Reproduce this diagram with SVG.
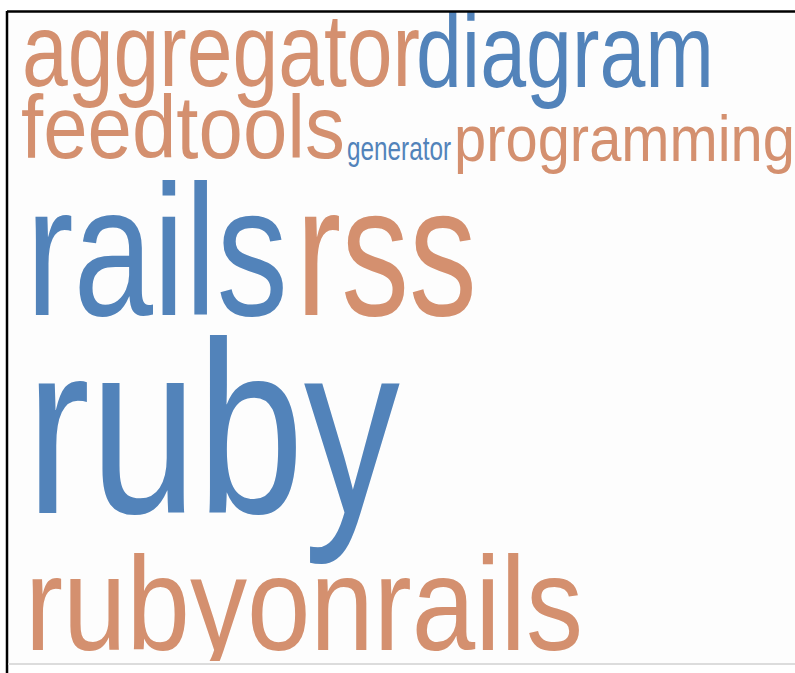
<svg xmlns="http://www.w3.org/2000/svg" width="795" height="673" viewBox="0 0 795 673">
  <defs>
    <style>
      .w { font-family: "Liberation Sans", Arial, sans-serif; }
      .o { fill: #D4906F; }
      .b { fill: #5283BA; }
    </style>
    <clipPath id="frame">
      <rect x="8" y="12" width="787" height="649"/>
    </clipPath>
  </defs>
  <rect x="0" y="0" width="795" height="673" fill="#ffffff"/>
  <rect x="8" y="12" width="787" height="652" fill="#fdfdfd"/>
  <g clip-path="url(#frame)">
    <g id="word-aggregator"><text class="w o" x="22" y="86" font-size="103" textLength="398" lengthAdjust="spacingAndGlyphs">aggregator</text></g>
    <g id="word-diagram"><text class="w b" x="416" y="87" font-size="103" textLength="298" lengthAdjust="spacingAndGlyphs">diagram</text></g>
    <g id="word-feedtools"><text class="w o" x="21" y="158" font-size="89" textLength="324" lengthAdjust="spacingAndGlyphs">feedtools</text></g>
    <g id="word-generator"><text class="w b" x="347" y="160" font-size="33" textLength="104" lengthAdjust="spacingAndGlyphs">generator</text></g>
    <g id="word-programming"><text class="w o" x="454" y="161" font-size="64" textLength="341" lengthAdjust="spacingAndGlyphs">programming</text></g>
    <g id="word-rails"><text class="w b" x="26" y="315" font-size="186" textLength="262" lengthAdjust="spacingAndGlyphs">rails</text></g>
    <g id="word-rss"><text class="w o" x="296" y="315" font-size="186" textLength="181" lengthAdjust="spacingAndGlyphs">rss</text></g>
    <g id="word-ruby"><text class="w b" x="26" y="513" font-size="245" textLength="374" lengthAdjust="spacingAndGlyphs">ruby</text></g>
    <g id="word-rubyonrails"><text class="w o" x="25" y="650" font-size="134" textLength="558" lengthAdjust="spacingAndGlyphs">rubyonrails</text></g>
  </g>
  <g id="frame-lines">
    <line x1="7" y1="11.5" x2="795" y2="11.5" stroke="#000" stroke-width="2.5"/>
    <line x1="7" y1="11" x2="7" y2="673" stroke="#000" stroke-width="2.5"/>
    <line x1="8" y1="664" x2="795" y2="664" stroke="#dcdcdc" stroke-width="2"/>
  </g>
</svg>
